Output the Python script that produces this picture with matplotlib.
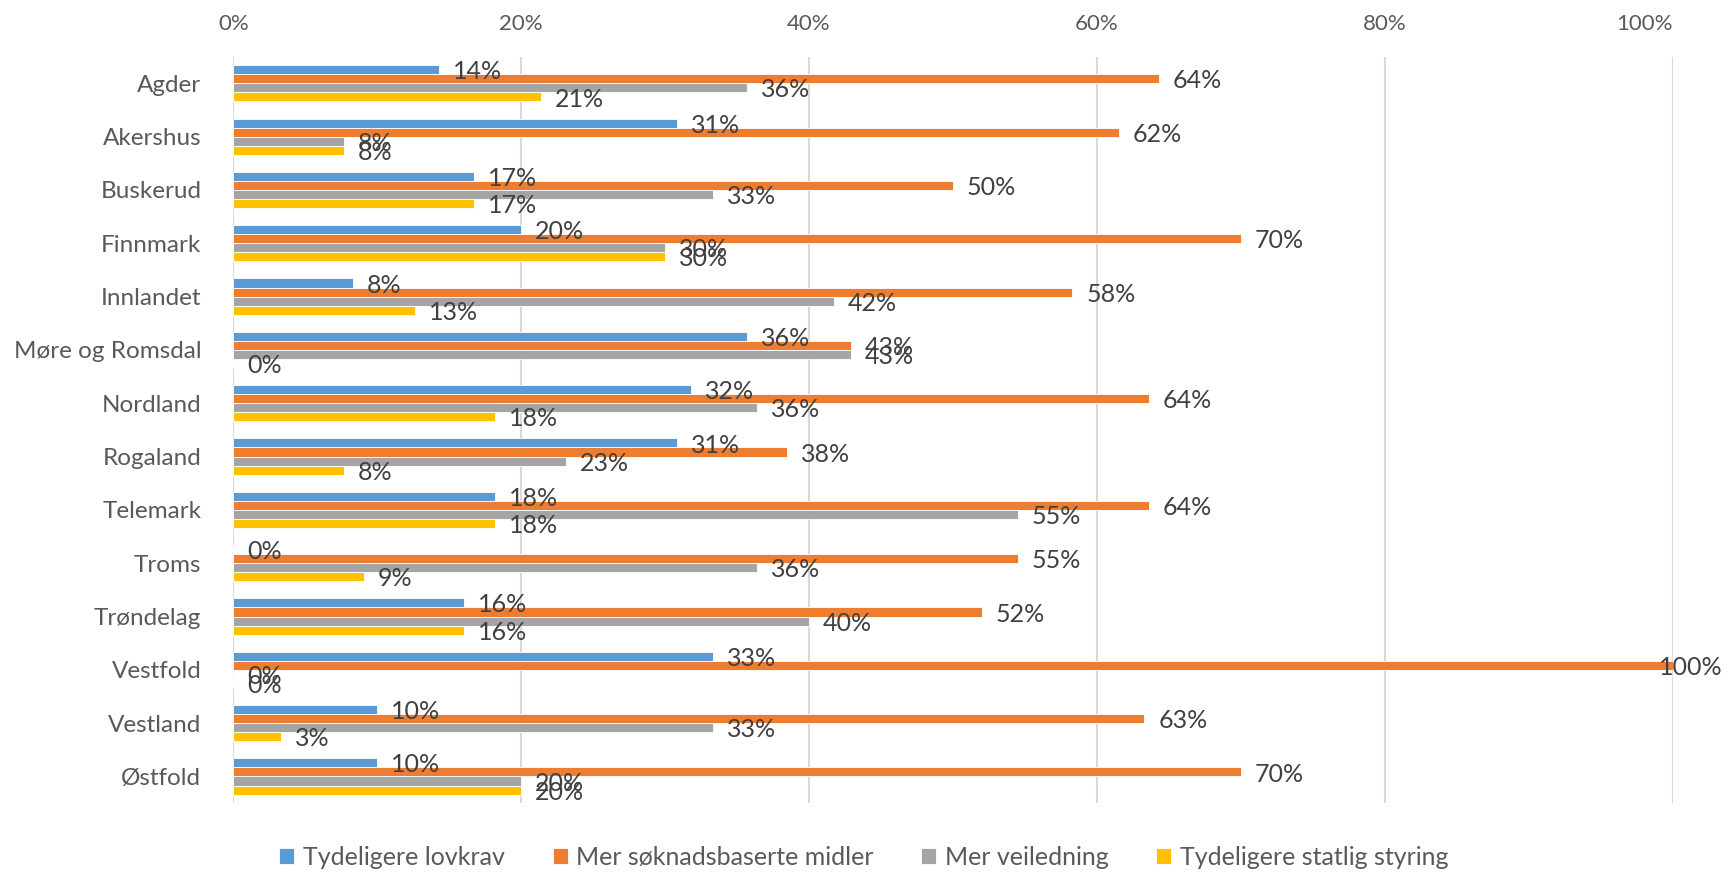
import numpy as np
import matplotlib.pyplot as plt

plt.rcParams['font.family'] = ['Lato', 'DejaVu Sans']

# Fylker og andeler per tiltak
regions = ['Agder', 'Akershus', 'Buskerud', 'Finnmark', 'Innlandet',
           'Møre og Romsdal', 'Nordland', 'Rogaland', 'Telemark', 'Troms',
           'Trøndelag', 'Vestfold', 'Vestland', 'Østfold']

lovkrav = [0.143, 0.308, 0.167, 0.20, 0.083, 0.357, 0.318, 0.308, 0.182, 0.0,
           0.16, 0.333, 0.10, 0.10]
midler = [0.643, 0.615, 0.50, 0.70, 0.583, 0.429, 0.636, 0.385, 0.636, 0.545,
          0.52, 1.00, 0.633, 0.70]
veiledning = [0.357, 0.077, 0.333, 0.30, 0.417, 0.429, 0.364, 0.231, 0.545, 0.364,
              0.40, 0.0, 0.333, 0.20]
styring = [0.214, 0.077, 0.167, 0.30, 0.126, 0.0, 0.182, 0.077, 0.182, 0.091,
           0.16, 0.0, 0.033, 0.20]

series_names = ['Tydeligere lovkrav', 'Mer søknadsbaserte midler',
                'Mer veiledning', 'Tydeligere statlig styring']
colors = ['#5B9BD5', '#ED7D31', '#A5A5A5', '#FFC000']
series = [lovkrav, midler, veiledning, styring]

fig = plt.figure(figsize=(17.28, 8.72), dpi=100)
ax = fig.add_axes([0.135, 0.079, 0.833, 0.856])

y = np.arange(len(regions))
h = 0.17
for j, (vals, name, col) in enumerate(zip(series, series_names, colors)):
    pos = y + (j - 1.5) * h
    bars = ax.barh(pos, vals, height=h, color=col, label=name,
                   edgecolor='white', linewidth=0.6)
    for b, v in zip(bars, vals):
        # a full bar has no room on the right, so its label is pulled back
        dx = -10 if v >= 0.99 else 10
        ax.annotate(f'{v:.0%}', (v, b.get_y() + b.get_height() / 2),
                    xytext=(dx, -1.5), textcoords='offset points',
                    va='center', ha='left', fontsize=18, color='#404040')

ax.set_xlim(0, 1)
ax.set_ylim(len(regions) - 0.5, -0.5)
ax.set_yticks(y)
ax.set_yticklabels(regions, fontsize=17.5, color='#595959')
ticks = np.linspace(0, 1, 6)
ax.set_xticks(ticks)
ax.set_xticklabels([f'{t:.0%}' for t in ticks], fontsize=16, color='#595959')
ax.xaxis.tick_top()
ax.get_xticklabels()[-1].set_horizontalalignment('right')
ax.tick_params(axis='both', length=0)
ax.tick_params(axis='x', pad=16)
ax.tick_params(axis='y', pad=23)
ax.grid(axis='x', color='#D9D9D9', linewidth=1.5)
ax.set_axisbelow(True)
for s in ax.spines.values():
    s.set_visible(False)

fig.legend(loc='center', bbox_to_anchor=(0.5, 0.017), ncol=4,
           frameon=False, fontsize=18, handlelength=0.6, handleheight=0.6,
           columnspacing=1.9, handletextpad=0.35, labelcolor='#595959')

fig.savefig('out.png', dpi=100)
